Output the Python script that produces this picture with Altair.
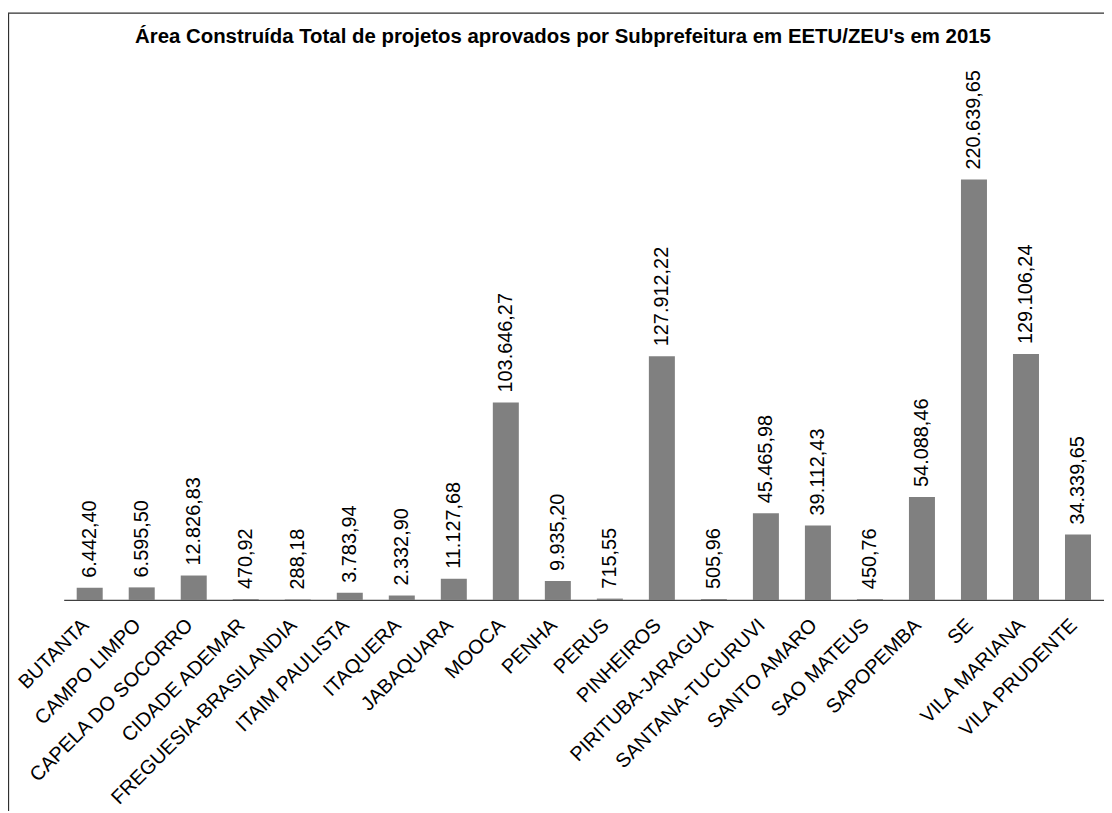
import altair as alt
import pandas as pd

categories = ["BUTANTA", "CAMPO LIMPO", "CAPELA DO SOCORRO", "CIDADE ADEMAR",
              "FREGUESIA-BRASILANDIA", "ITAIM PAULISTA", "ITAQUERA", "JABAQUARA",
              "MOOCA", "PENHA", "PERUS", "PINHEIROS", "PIRITUBA-JARAGUA",
              "SANTANA-TUCURUVI", "SANTO AMARO", "SAO MATEUS", "SAPOPEMBA", "SE",
              "VILA MARIANA", "VILA PRUDENTE"]
values = [6442.40, 6595.50, 12826.83, 470.92, 288.18, 3783.94, 2332.90, 11127.68,
          103646.27, 9935.20, 715.55, 127912.22, 505.96, 45465.98, 39112.43,
          450.76, 54088.46, 220639.65, 129106.24, 34339.65]
labels = ["6.442,40", "6.595,50", "12.826,83", "470,92", "288,18", "3.783,94",
          "2.332,90", "11.127,68", "103.646,27", "9.935,20", "715,55", "127.912,22",
          "505,96", "45.465,98", "39.112,43", "450,76", "54.088,46", "220.639,65",
          "129.106,24", "34.339,65"]
title = ["Área Construída Total de projetos aprovados por Subprefeitura em EETU/ZEU's em 2015"]

df = pd.DataFrame({"cat": categories, "val": values, "lab": labels})
FONT = "Liberation Sans"

x = alt.X("cat:N", sort=categories, title=None,
          scale=alt.Scale(paddingInner=0.5, paddingOuter=0.25),
          axis=alt.Axis(labelAngle=-45, labelAlign="right", labelBaseline="middle",
                        labelPadding=22, labelOffset=-4, labelFontSize=20, labelFont=FONT,
                        labelColor="#000000", ticks=False, domainColor="#404040",
                        domainWidth=1.3, labelOverlap=False, labelLimit=400))
y = alt.Y("val:Q", title=None, scale=alt.Scale(domain=[0, 250000], nice=False),
          axis=None)

base = alt.Chart(df)
bars = base.mark_bar(color="#808080").encode(x=x, y=y)
text = base.mark_text(angle=270, align="left", baseline="middle", dx=10,
                      fontSize=20, font=FONT, color="#000000").encode(
    x=alt.X("cat:N", sort=categories), y="val:Q", text="lab:N")

title_df = pd.DataFrame({"t": title})
title_mark = alt.Chart(title_df).mark_text(
    fontSize=20.5, fontWeight="bold", font=FONT, color="#000000",
    align="center", baseline="alphabetic").encode(
    x=alt.value(502), y=alt.value(-81), text="t:N")

frame_df = pd.DataFrame({"k": ["a"]})
left_line = alt.Chart(frame_df).mark_rule(color="#303030", strokeWidth=1.3).encode(
    x=alt.value(-55.5), y=alt.value(-111), y2=alt.value(720))
top_line = alt.Chart(frame_df).mark_rule(color="#303030", strokeWidth=1.3).encode(
    x=alt.value(-56), x2=alt.value(1100), y=alt.value(-111))

chart = alt.layer(bars, text, title_mark, left_line, top_line).properties(
    width=1046, height=479, background="#ffffff",
    autosize=alt.AutoSizeParams(type="none"),
    padding={"left": 56, "top": 114, "right": 0, "bottom": 210},
).configure_view(strokeWidth=0, stroke="transparent")

chart.save("out.html", embed_options={"renderer": "svg", "actions": False})
